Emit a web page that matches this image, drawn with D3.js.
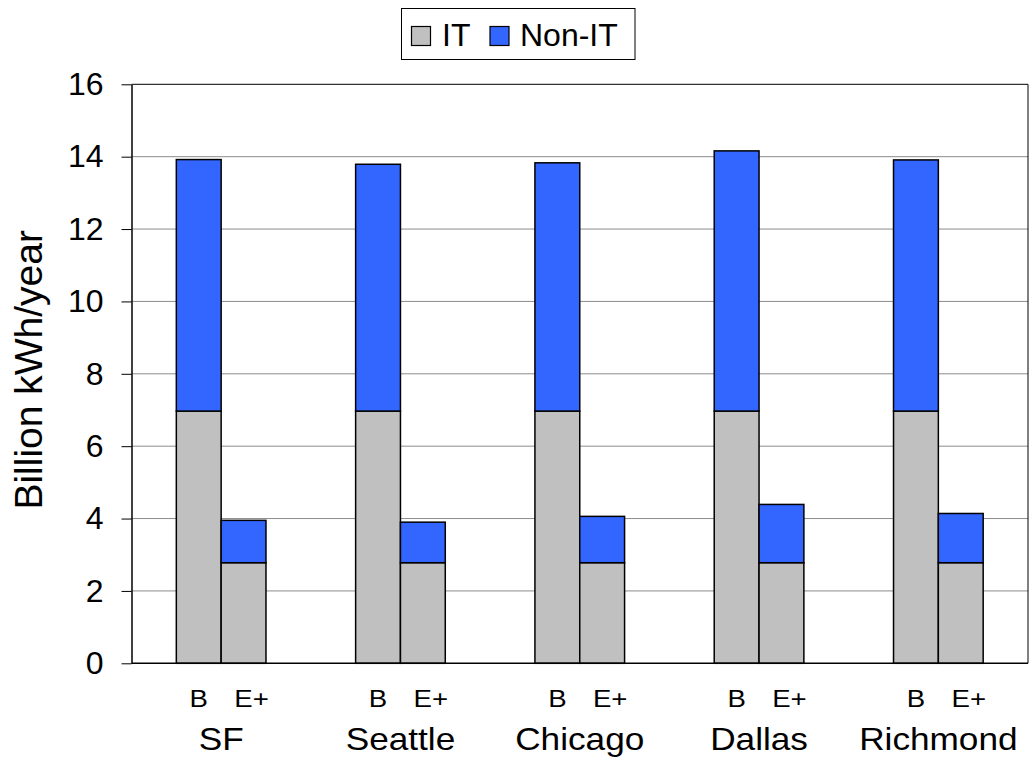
<!DOCTYPE html>
<html>
<head>
<meta charset="utf-8">
<script src="https://cdn.jsdelivr.net/npm/d3@7"></script>
<style>
  html, body { margin: 0; padding: 0; background: #fff; }
  svg { display: block; font-family: "Liberation Sans", Arial, sans-serif; }
</style>
</head>
<body>
<svg id="chart" width="1033" height="763"></svg>
<script>
// ---- Data ----
const cities = ["SF", "Seattle", "Chicago", "Dallas", "Richmond"];
const scenarios = ["B", "E+"];
const seriesNames = ["IT", "Non-IT"];
const itB = [6.97, 6.97, 6.97, 6.97, 6.97];
const nonItB = [6.95, 6.82, 6.86, 7.19, 6.94];
const itE = [2.78, 2.78, 2.78, 2.78, 2.78];
const nonItE = [1.17, 1.12, 1.28, 1.61, 1.36];
const yTicks = [0, 2, 4, 6, 8, 10, 12, 14, 16];

const colors = { "IT": "#C0C0C0", "Non-IT": "#3366FF" };

// ---- Build rows ----
const rows = [];
cities.forEach((c, i) => {
  rows.push({ city: c, scen: "B", IT: itB[i], "Non-IT": nonItB[i] });
  rows.push({ city: c, scen: "E+", IT: itE[i], "Non-IT": nonItE[i] });
});
const stacked = d3.stack().keys(seriesNames)(rows);

// ---- Layout ----
const svg = d3.select("#chart");
const plot = { left: 131.5, right: 1028, top: 84.3, bottom: 663.3 };

const x0 = d3.scaleBand().domain(cities).range([plot.left, plot.right]).paddingInner(0).paddingOuter(0);
const x1 = d3.scaleBand().domain(scenarios).range([x0.bandwidth() * 0.25, x0.bandwidth() * 0.75]).padding(0);
const y = d3.scaleLinear().domain([0, 16]).range([plot.bottom, plot.top]);

// gridlines
svg.append("g").selectAll("line").data(yTicks.filter(t => t > 0 && t < 16)).join("line")
  .attr("x1", plot.left).attr("x2", plot.right)
  .attr("y1", d => y(d)).attr("y2", d => y(d))
  .attr("stroke", "#8c8c8c").attr("stroke-width", 1);

// frame (top & right)
svg.append("path")
  .attr("d", `M${plot.left},${y(16)}H${plot.right}V${plot.bottom}`)
  .attr("fill", "none").attr("stroke", "#000").attr("stroke-width", 1);

// bars
svg.append("g").selectAll("g").data(stacked).join("g")
  .attr("fill", d => colors[d.key])
  .selectAll("rect").data(d => d).join("rect")
  .attr("x", d => x0(d.data.city) + x1(d.data.scen))
  .attr("width", x1.bandwidth())
  .attr("y", d => y(d[1]))
  .attr("height", d => y(d[0]) - y(d[1]))
  .attr("stroke", "#000").attr("stroke-width", 1.5);

// y axis
const yAxis = d3.axisLeft(y).tickValues(yTicks).tickSize(10).tickPadding(18).tickSizeOuter(0);
const ya = svg.append("g").attr("transform", `translate(${plot.left},0)`).call(yAxis);
ya.select(".domain").attr("stroke", "#000").attr("stroke-width", 1.5);
ya.selectAll(".tick line").attr("stroke", "#000").attr("stroke-width", 1);
ya.selectAll(".tick text").attr("font-size", 32).attr("fill", "#000")
  .attr("font-family", "Liberation Sans, Arial, sans-serif");

// x baseline
svg.append("line").attr("x1", plot.left).attr("x2", plot.right)
  .attr("y1", y(0)).attr("y2", y(0)).attr("stroke", "#000").attr("stroke-width", 1.5);

// scenario labels (horizontally widened text like the original)
const scenG = svg.append("g");
cities.forEach(c => {
  scenarios.forEach(s => {
    const cx = x0(c) + x1(s) + x1.bandwidth() / 2 + (s === "E+" ? 8 : 0);
    scenG.append("text")
      .attr("transform", `translate(${cx},707.3) scale(1.2,1)`)
      .attr("text-anchor", "middle")
      .attr("font-size", 23)
      .attr("fill", "#000")
      .text(s);
  });
});

// city labels
svg.append("g").selectAll("text").data(cities).join("text")
  .attr("transform", d => `translate(${x0(d) + x0.bandwidth() / 2},750) scale(1.1,1)`)
  .attr("text-anchor", "middle")
  .attr("font-size", 32)
  .attr("fill", "#000")
  .text(d => d);

// y axis title
svg.append("text")
  .attr("transform", `translate(42,${(plot.top + plot.bottom) / 2 - 4}) rotate(-90)`)
  .attr("text-anchor", "middle")
  .attr("font-size", 39)
  .attr("fill", "#000")
  .text("Billion kWh/year");

// legend
const lg = svg.append("g");
lg.append("rect").attr("x", 401.5).attr("y", 8.5).attr("width", 233.5).attr("height", 51)
  .attr("fill", "#fff").attr("stroke", "#000").attr("stroke-width", 1);
const legendItems = [
  { key: "IT", sx: 411.5, tx: 442 },
  { key: "Non-IT", sx: 490, tx: 520 }
];
legendItems.forEach(it => {
  lg.append("rect").attr("x", it.sx).attr("y", 26.5).attr("width", 19).attr("height", 19)
    .attr("fill", colors[it.key]).attr("stroke", "#000").attr("stroke-width", 1.2);
  lg.append("text").attr("x", it.tx).attr("y", 45.7).attr("font-size", 32).attr("fill", "#000")
    .text(it.key);
});
</script>
</body>
</html>
